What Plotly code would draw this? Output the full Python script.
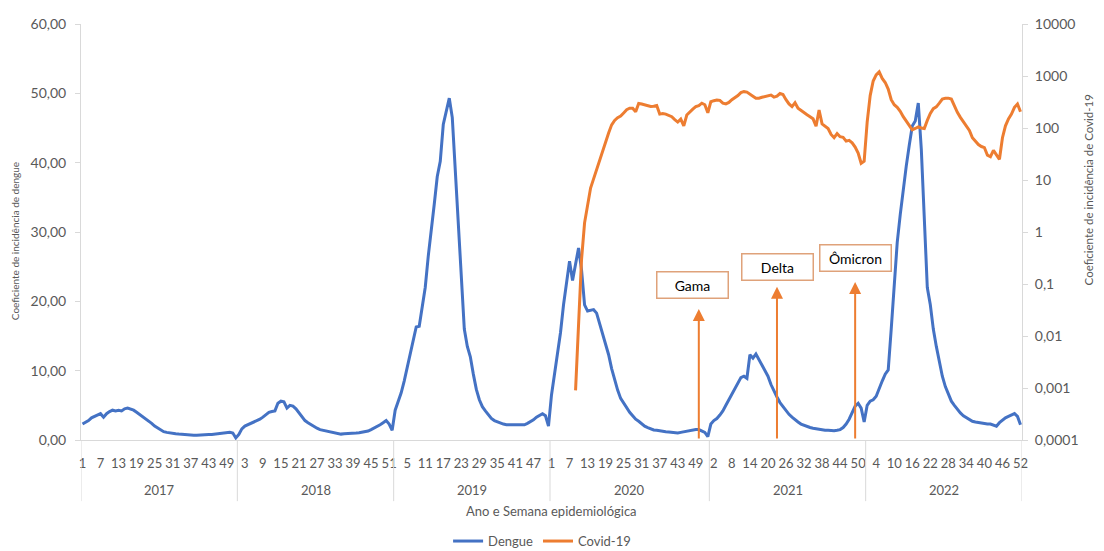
import plotly.graph_objects as go

# ---------------- data ----------------
years = [2017, 2018, 2019, 2020, 2021, 2022]
weeks_per_year = [52, 52, 52, 53, 52, 52]

dengue_2017 = [2.3, 2.5, 2.8, 3.2, 3.4, 3.6, 3.8, 3.3, 3.8, 4.1,
               4.3, 4.2, 4.3, 4.2, 4.5, 4.6, 4.5, 4.3, 4.0, 3.7,
               3.4, 3.0, 2.8, 2.4, 2.0, 1.7, 1.4, 1.2, 1.1, 1.0,
               0.95, 0.9, 0.85, 0.8, 0.75, 0.7, 0.75, 0.7, 0.7, 0.75,
               0.8, 0.75, 0.8, 0.8, 0.85, 0.8, 0.85, 0.9, 1.0, 1.1,
               1.0, 0.3]
dengue_2018 = [0.8, 1.6, 2.0, 2.2, 2.4, 2.5, 2.7, 3.0, 3.3, 3.7,
               4.0, 4.1, 4.2, 5.3, 5.6, 5.5, 4.6, 5.0, 4.9, 4.5,
               3.9, 3.3, 2.8, 2.5, 2.2, 1.9, 1.7, 1.5, 1.4, 1.3,
               1.2, 1.1, 1.0, 0.9, 0.85, 0.9, 0.9, 0.95, 1.0, 1.0,
               1.05, 1.1, 1.2, 1.3, 1.5, 1.7, 1.9, 2.2, 2.5, 2.8,
               2.3, 1.4]
dengue_2019 = [4.3, 5.5, 6.8, 8.5, 10.5, 12.5, 14.5, 16.3, 16.4, 19.0,
               22.0, 26.5, 30.0, 34.0, 38.0, 40.2, 45.5, 47.3, 49.3, 46.5,
               39.0, 31.0, 23.0, 16.0, 13.5, 12.0, 9.5, 7.3, 5.8, 4.8,
               4.2, 3.6, 3.1, 2.8, 2.6, 2.4, 2.3, 2.2, 2.2, 2.1,
               2.1, 2.1, 2.2, 2.2, 2.4, 2.6, 2.9, 3.3, 3.6, 3.8,
               3.5, 2.0]
dengue_2020 = [6.5, 9.5, 12.5, 15.5, 19.5, 22.5, 25.8, 23.0, 25.5, 27.7,
               24.5, 19.5, 18.6, 18.7, 18.8, 18.3, 16.8, 15.2, 13.5, 12.3,
               10.3, 8.6, 7.2, 6.0, 5.3, 4.7, 4.0, 3.5, 3.0, 2.7,
               2.3, 2.0, 1.8, 1.6, 1.45, 1.4, 1.3, 1.25, 1.2, 1.15,
               1.1, 1.05, 1.0, 1.1, 1.2, 1.3, 1.4, 1.5, 1.5, 1.5,
               1.3, 1.1, 0.5]
dengue_2021 = [2.3, 2.8, 3.1, 3.6, 4.2, 5.0, 5.8, 6.6, 7.5, 8.3,
               9.0, 9.2, 8.9, 12.3, 11.8, 12.4, 11.6, 10.8, 10.0, 9.2,
               8.0, 7.0, 6.2, 5.4, 4.8, 4.2, 3.7, 3.3, 2.9, 2.6,
               2.3, 2.1, 1.9, 1.8, 1.7, 1.6, 1.5, 1.5, 1.4, 1.4,
               1.35, 1.35, 1.4, 1.5, 1.8, 2.3, 3.0, 4.0, 4.9, 5.3,
               4.6, 2.6]
dengue_2022 = [5.0, 5.6, 5.8, 6.3, 7.5, 8.5, 9.5, 10.1, 16.0, 22.5,
               28.5, 32.5, 36.5, 39.5, 42.5, 45.3, 46.0, 48.6, 42.0, 32.0,
               22.0, 19.5, 16.0, 13.5, 11.3, 9.2, 7.7, 6.5, 5.6, 5.0,
               4.4, 3.9, 3.5, 3.2, 2.9, 2.7, 2.6, 2.5, 2.4, 2.3,
               2.3, 2.3, 2.2, 2.0, 2.5, 2.9, 3.2, 3.4, 3.6, 3.8,
               3.4, 2.2]

covid_2020 = [None, None, None, None, None, None, None, None, 0.0009, 0.015,
              0.3, 1.5, 3.5, 7, 10.5, 16, 24, 38, 55, 80,
              115, 140, 158, 170, 195, 225, 240, 240, 205, 297,
              290, 280, 270, 260, 262, 270, 185, 190, 185, 172,
              165, 145, 130, 148, 110, 178, 205, 230, 257, 270,
              300, 280, 196]
covid_2021 = [320, 335, 345, 340, 300, 290, 310, 350, 380, 420,
              480, 500, 490, 440, 410, 375, 375, 390, 400, 410,
              430, 393, 410, 460, 440, 350, 290, 257, 305, 240,
              215, 200, 180, 165, 150, 108, 222, 120, 110, 98,
              75, 65, 78, 68, 66, 56, 58, 52, 43, 33,
              21, 23]
covid_2022 = [130, 420, 800, 1050, 1200, 900, 750, 560, 350, 280,
              250, 210, 165, 135, 110, 92, 98, 105, 100, 98,
              140, 190, 235, 255, 300, 360, 372, 375, 360, 260,
              200, 160, 130, 105, 90, 65, 55, 48, 44, 42,
              30, 28, 37, 30, 25, 65, 110, 150, 185, 250,
              290, 205]

variant_names = ["Gama", "Delta", "Ômicron"]
variant_year_week = [(2020, 50), (2021, 23), (2021, 49)]

left_ticks = [0, 10, 20, 30, 40, 50, 60]
left_tick_text = ["0,00", "10,00", "20,00", "30,00", "40,00", "50,00", "60,00"]
right_ticks = [0.0001, 0.001, 0.01, 0.1, 1, 10, 100, 1000, 10000]
right_tick_text = ["0,0001", "0,001", "0,01", "0,1", "1", "10", "100", "1000", "10000"]

# ---------------- categories ----------------
categories = []
for yr, n in zip(years, weeks_per_year):
    for w in range(1, n + 1):
        categories.append((yr, w))
idx_of = {c: i for i, c in enumerate(categories)}

dengue = dengue_2017 + dengue_2018 + dengue_2019 + dengue_2020 + dengue_2021 + dengue_2022
covid = covid_2020 + covid_2021 + covid_2022
covid_x = [idx_of[(yr, w)] for yr, n in zip(years[3:], weeks_per_year[3:]) for w in range(1, n + 1)]

tick_idx = list(range(0, len(categories), 6))
tick_text = [str(categories[i][1]) for i in tick_idx]

BLUE = "#4472C4"
ORANGE = "#ED7D31"
GRAY = "#595959"
AXIS = "#D9D9D9"
FONT = "Lato"

fig = go.Figure()
fig.add_trace(go.Scatter(x=list(range(len(dengue))), y=dengue, mode="lines", name="Dengue",
                         line=dict(color=BLUE, width=3)))
fig.add_trace(go.Scatter(x=covid_x, y=covid, mode="lines", name="Covid-19", yaxis="y2",
                         line=dict(color=ORANGE, width=3), connectgaps=False))

annotations = []
shapes = []

# year labels + dividers
start = 0
bounds = [-0.5]
for yr, n in zip(years, weeks_per_year):
    mid = start + (n - 1) / 2
    annotations.append(dict(x=mid, y=0, xref="x", yref="paper", yanchor="middle", xanchor="center",
                            yshift=-50, text=str(yr), showarrow=False,
                            font=dict(family=FONT, size=13, color=GRAY)))
    start += n
    bounds.append(start - 0.5)
for b in bounds:
    shapes.append(dict(type="line", xref="x", yref="paper", x0=b, x1=b, y0=0, y1=-0.147,
                       line=dict(color=AXIS, width=1)))

# variant arrows and boxes
arrow_tips = [18.9, 22.1, 22.8]
box_pos = [(202.9, 22.3), (231.2, 25.0), (257.0, 26.2)]
for name, yw, tip, (bx, by) in zip(variant_names, variant_year_week, arrow_tips, box_pos):
    xi = idx_of[yw]
    annotations.append(dict(x=xi, y=tip, xref="x", yref="y", ax=xi, ay=0, axref="x", ayref="y",
                            text="", showarrow=True, arrowhead=2, arrowsize=1.2, arrowwidth=2,
                            arrowcolor=ORANGE))
    annotations.append(dict(x=bx, y=by, xref="x", yref="y", text=name, showarrow=False,
                            bordercolor="#DFA27A", borderwidth=1.5, borderpad=0, bgcolor="white",
                            width=70, height=25, font=dict(family=FONT, size=14, color="black")))

# axis titles
annotations.append(dict(x=0.5, y=0, xref="paper", yref="paper", yanchor="middle", xanchor="center",
                        yshift=-71, text="Ano e Semana epidemiológica",
                        showarrow=False, font=dict(family=FONT, size=13, color=GRAY)))
annotations.append(dict(x=0, y=0.478, xref="paper", yref="paper", xanchor="center", yanchor="middle",
                        xshift=-66, textangle=-90,
                        text="Coeficiente de incidência de dengue", showarrow=False,
                        font=dict(family=FONT, size=10, color=GRAY)))
annotations.append(dict(x=1, y=0.6, xref="paper", yref="paper", xanchor="center", yanchor="middle",
                        xshift=66, textangle=-90,
                        text="Coeficiente de incidência de Covid-19", showarrow=False,
                        font=dict(family=FONT, size=11.5, color=GRAY)))

# the page puts the figure 8 px in from the top-left corner, so the figure is
# 8 px smaller and its margins are reduced by 8 px on the top and left.
fig.update_layout(
    width=1096, height=543,
    margin=dict(l=73, r=82, t=16, b=111, autoexpand=False),
    paper_bgcolor="white", plot_bgcolor="white",
    font=dict(family=FONT, color=GRAY),
    showlegend=True,
    legend=dict(orientation="h", x=0.49, xanchor="center", y=-0.243, yanchor="middle",
                font=dict(family=FONT, size=13, color=GRAY), itemwidth=30),
    xaxis=dict(range=[-0.5, len(categories) - 0.5], tickmode="array", tickvals=tick_idx, ticktext=tick_text,
               showgrid=False, zeroline=False, showline=True, linecolor=AXIS, linewidth=1,
               automargin=False,
               ticks="", ticklabelstandoff=11, tickfont=dict(family=FONT, size=13, color=GRAY)),
    yaxis=dict(range=[0, 60], tickmode="array", tickvals=left_ticks, ticktext=left_tick_text,
               showgrid=False, zeroline=False, showline=True, linecolor=AXIS, linewidth=1,
               automargin=False,
               ticks="outside", ticklen=5, tickcolor=AXIS, ticklabelstandoff=6,
               tickfont=dict(family=FONT, size=14, color=GRAY)),
    yaxis2=dict(type="log", range=[-4, 4], overlaying="y", side="right", tickmode="array",
                tickvals=right_ticks, ticktext=right_tick_text, showgrid=False, zeroline=False,
                automargin=False,
                showline=True, linecolor=AXIS, linewidth=1, ticks="outside", ticklen=5, tickcolor=AXIS,
                ticklabelstandoff=4, tickfont=dict(family=FONT, size=14, color=GRAY)),
    annotations=annotations,
    shapes=shapes,
)

fig.write_html("out.html")
